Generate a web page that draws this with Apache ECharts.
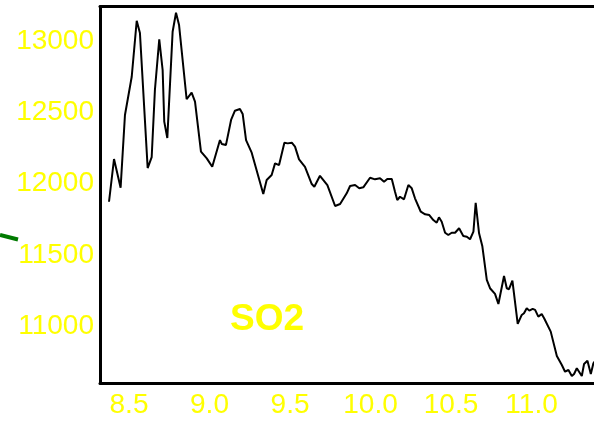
<!DOCTYPE html>
<html>
<head>
<meta charset="utf-8">
<script src="https://cdn.jsdelivr.net/npm/echarts@6/dist/echarts.min.js"></script>
<style>
  html, body { margin: 0; padding: 0; background: #fff; }
  #chart { width: 594px; height: 422px; }
</style>
</head>
<body>
<div id="chart"></div>
<script>
// values
var xValues = [8.376, 8.407, 8.448, 8.475, 8.517, 8.548, 8.568, 8.616, 8.641, 8.661,
    8.688, 8.709, 8.719, 8.738, 8.771, 8.792, 8.811, 8.858, 8.889, 8.910,
    8.947, 8.983, 9.017, 9.065, 9.076, 9.102, 9.134, 9.158, 9.189, 9.206,
    9.227, 9.262, 9.334, 9.355, 9.386, 9.407, 9.432, 9.465, 9.486, 9.511,
    9.531, 9.556, 9.593, 9.635, 9.651, 9.686, 9.732, 9.780, 9.811, 9.852,
    9.873, 9.904, 9.930, 9.955, 9.997, 10.028, 10.059, 10.084, 10.104, 10.132,
    10.152, 10.166, 10.183, 10.208, 10.235, 10.256, 10.276, 10.312, 10.339, 10.365,
    10.390, 10.411, 10.425, 10.442, 10.463, 10.483, 10.504, 10.525, 10.550, 10.576,
    10.598, 10.618, 10.639, 10.653, 10.674, 10.694, 10.722, 10.742, 10.773, 10.794,
    10.829, 10.846, 10.860, 10.881, 10.914, 10.939, 10.953, 10.970, 10.986, 11.007,
    11.022, 11.042, 11.063, 11.078, 11.119, 11.157, 11.188, 11.208, 11.229, 11.250,
    11.264, 11.281, 11.312, 11.326, 11.347, 11.368, 11.384, 11.407];
var so2Values = [11874, 12173, 11972, 12482, 12750, 13142, 13056, 12110, 12187, 12657,
    13012, 12797, 12435, 12321, 13065, 13198, 13112, 12592, 12638, 12575,
    12225, 12178, 12119, 12306, 12279, 12271, 12447, 12512, 12524, 12489,
    12306, 12218, 11928, 12026, 12061, 12143, 12131, 12288, 12283, 12288,
    12260, 12171, 12119, 11998, 11979, 12056, 11991, 11844, 11858, 11933,
    11984, 11991, 11968, 11975, 12042, 12031, 12038, 12014, 12033, 12033,
    11944, 11886, 11909, 11891, 11991, 11968, 11898, 11804, 11786, 11781,
    11746, 11727, 11765, 11734, 11657, 11641, 11657, 11657, 11688, 11634,
    11629, 11611, 11664, 11867, 11653, 11564, 11326, 11268, 11228, 11158,
    11354, 11268, 11261, 11321, 11018, 11081, 11093, 11128, 11111, 11123,
    11116, 11069, 11088, 11058, 10964, 10793, 10730, 10683, 10695, 10653,
    10667, 10707, 10653, 10737, 10760, 10667, 10742, 10779];
var xTicks = [8.5, 9.0, 9.5, 10.0, 10.5, 11.0];
var yTicks = [11000, 11500, 12000, 12500, 13000];

var labelFont = {
    color: '#ffff00',
    fontFamily: '"Liberation Sans", Arial, sans-serif',
    fontSize: 28
};

var chart = echarts.init(document.getElementById('chart'));
chart.setOption({
    animation: false,
    backgroundColor: '#fff',
    grid: { left: 100, top: 6.5, right: -6, bottom: 39, containLabel: false, outerBoundsMode: 'none' },
    xAxis: [{
        type: 'value',
        min: 8.32,
        max: 11.425,
        splitLine: { show: false },
        axisTick: { show: false },
        axisLine: { lineStyle: { color: '#000', width: 3 } },
        axisLabel: Object.assign({
            customValues: xTicks,
            margin: 8,
            formatter: function (v) { return v.toFixed(1); }
        }, labelFont)
    }, {
        type: 'value',
        position: 'top',
        min: 8.32,
        max: 11.425,
        splitLine: { show: false },
        axisTick: { show: false },
        axisLabel: { show: false },
        axisLine: { lineStyle: { color: '#000', width: 3 } }
    }],
    yAxis: {
        type: 'value',
        min: 10604,
        max: 13242,
        splitLine: { show: false },
        axisTick: { show: false },
        axisLine: { lineStyle: { color: '#000', width: 3 } },
        axisLabel: Object.assign({
            customValues: yTicks,
            margin: 6,
            formatter: function (v) { return String(v); }
        }, labelFont)
    },
    series: [{
        type: 'line',
        data: xValues.map(function (x, i) { return [x, so2Values[i]]; }),
        showSymbol: false,
        clip: true,
        lineStyle: { color: '#000', width: 2 }
    }],
    graphic: [{
        type: 'text',
        x: 267,
        y: 320,
        style: {
            text: 'SO2',
            fill: '#ffff00',
            font: 'bold 37px "Liberation Sans", Arial, sans-serif',
            textAlign: 'center',
            textVerticalAlign: 'middle'
        }
    }, {
        type: 'line',
        shape: { x1: 0, y1: 235, x2: 18, y2: 239.5 },
        style: { stroke: '#007a00', lineWidth: 4 }
    }]
});
</script>
</body>
</html>
